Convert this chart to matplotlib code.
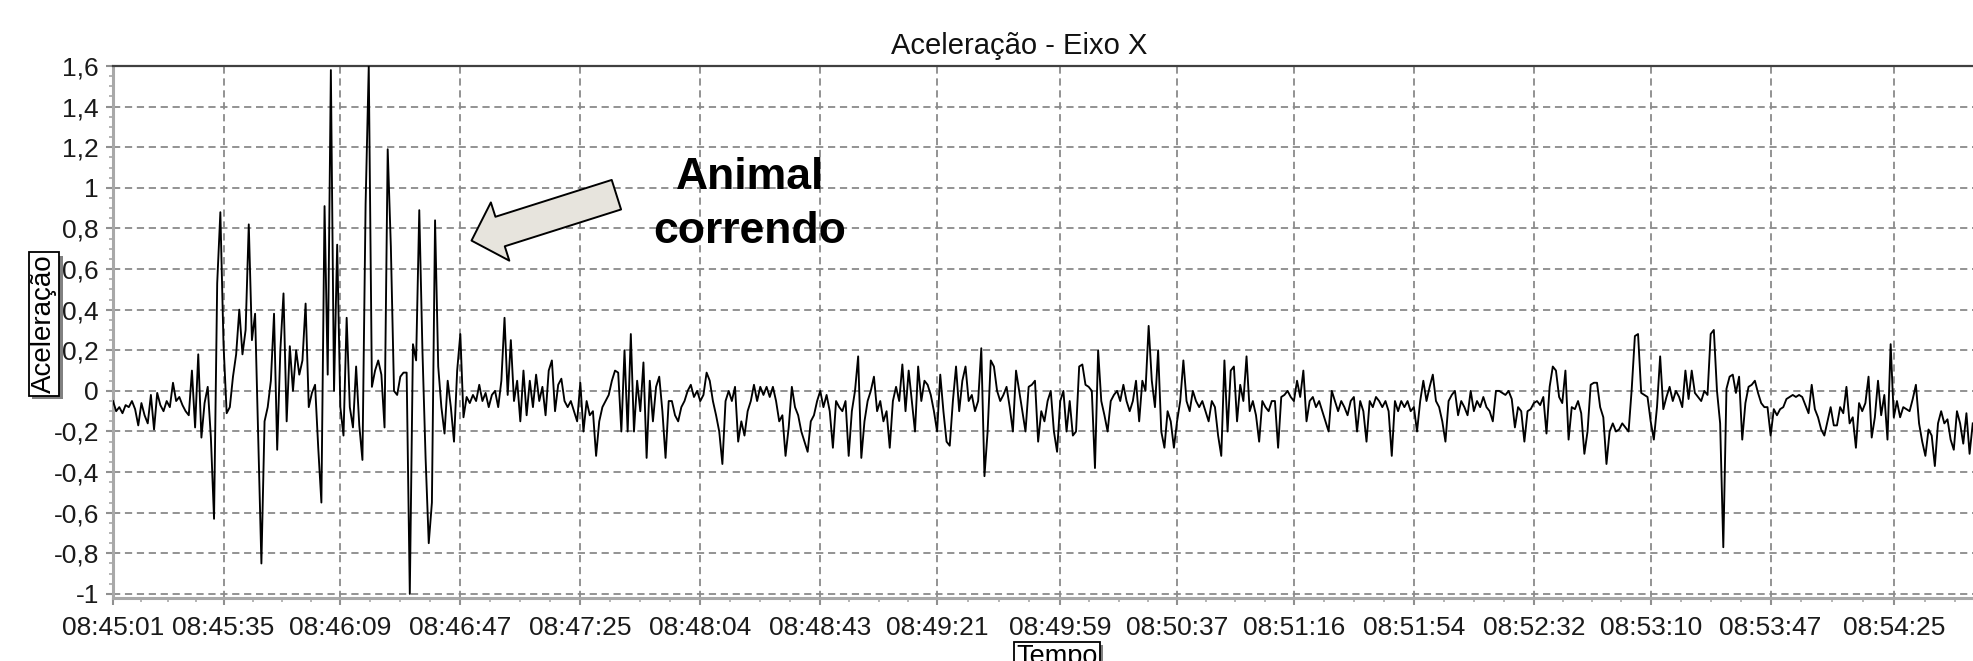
import matplotlib
matplotlib.use("Agg")
import matplotlib.pyplot as plt
import matplotlib.patheffects as pe
from matplotlib.ticker import FixedLocator, FuncFormatter
import numpy as np

plt.rcParams['font.family'] = ['Liberation Sans', 'DejaVu Sans']

title = "Aceleração - Eixo X"
x_label = "Tempo"
y_label = "Aceleração"
note = "Animal\ncorrendo"

sample_step = 1.0  # one value per second of the trace
end_sample = 589.4

# time labels and the sample each one sits on (logger clock is irregular)
tick_labels = ["08:45:01", "08:45:35", "08:46:09", "08:46:47", "08:47:25",
               "08:48:04", "08:48:43", "08:49:21", "08:49:59", "08:50:37",
               "08:51:16", "08:51:54", "08:52:32", "08:53:10", "08:53:47",
               "08:54:25"]
tick_sample = [0, 35, 72, 110, 148, 186, 224, 261, 300, 337, 374, 412, 450, 487, 525, 564]
y_ticks = [-1.0, -0.8, -0.6, -0.4, -0.2, 0.0, 0.2, 0.4, 0.6, 0.8, 1.0, 1.2, 1.4, 1.6]

# acceleration, one value per second from 08:45:01
accel = [
    -0.05, -0.10, -0.08, -0.11, -0.07, -0.08, -0.05, -0.09, -0.17, -0.06,  # 0
    -0.12, -0.16, -0.02, -0.19, -0.01, -0.07, -0.10, -0.05, -0.08, 0.04,
    -0.05, -0.03, -0.07, -0.10, -0.12, 0.10, -0.18, 0.18, -0.23, -0.06,
    0.02, -0.23, -0.63, 0.53, 0.88, 0.23, -0.11, -0.08, 0.07, 0.18,
    0.40, 0.18, 0.30, 0.82, 0.25, 0.38, -0.24, -0.85, -0.15, -0.08,
    0.05, 0.38, -0.29, 0.20, 0.48, -0.15, 0.22, 0.00, 0.20, 0.08,
    0.15, 0.43, -0.08, -0.01, 0.03, -0.28, -0.55, 0.91, 0.08, 1.58,
    0.00, 0.72, -0.08, -0.22, 0.36, -0.08, -0.18, 0.12, -0.17, -0.34,
    0.92, 1.60, 0.02, 0.10, 0.15, 0.08, -0.18, 1.19, 0.71, 0.00,
    -0.02, 0.07, 0.09, 0.09, -1.00, 0.23, 0.15, 0.89, 0.20, -0.33,
    -0.75, -0.55, 0.84, 0.12, -0.08, -0.21, 0.05, -0.08, -0.25, 0.10,  # 100
    0.28, -0.13, -0.03, -0.06, -0.02, -0.05, 0.03, -0.05, -0.01, -0.08,
    -0.02, 0.00, -0.08, 0.05, 0.36, -0.02, 0.25, -0.05, 0.05, -0.15,
    0.10, -0.12, 0.05, -0.08, 0.08, -0.05, 0.02, -0.12, 0.10, 0.15,
    -0.10, 0.03, 0.06, -0.05, -0.08, -0.05, -0.10, -0.15, 0.04, -0.20,
    -0.05, -0.12, -0.10, -0.32, -0.15, -0.08, -0.05, -0.02, 0.05, 0.10,
    0.09, -0.20, 0.20, -0.20, 0.28, -0.20, 0.05, -0.10, 0.14, -0.33,
    0.05, -0.15, 0.02, 0.07, -0.10, -0.33, -0.05, -0.05, -0.12, -0.15,
    -0.08, -0.05, 0.00, 0.03, -0.03, 0.00, -0.05, -0.02, 0.09, 0.05,
    -0.05, -0.12, -0.20, -0.36, -0.05, 0.00, -0.05, 0.02, -0.25, -0.15,
    -0.22, -0.10, -0.05, 0.03, -0.05, 0.02, -0.02, 0.02, -0.03, 0.02,  # 200
    -0.05, -0.15, -0.12, -0.32, -0.18, 0.02, -0.08, -0.12, -0.20, -0.25,
    -0.30, -0.15, -0.12, -0.05, 0.00, -0.08, -0.02, -0.10, -0.28, -0.05,
    -0.08, -0.10, -0.05, -0.32, -0.10, 0.00, 0.17, -0.33, -0.15, -0.05,
    0.00, 0.07, -0.10, -0.05, -0.15, -0.10, -0.28, -0.05, 0.02, -0.05,
    0.13, -0.10, 0.10, -0.05, -0.20, 0.12, -0.05, 0.05, 0.03, -0.02,
    -0.10, -0.20, 0.08, -0.10, -0.25, -0.27, -0.05, 0.12, -0.10, 0.05,
    0.12, -0.05, -0.02, -0.10, -0.05, 0.21, -0.42, -0.20, 0.15, 0.12,
    0.00, -0.05, -0.02, 0.02, -0.08, -0.20, 0.10, 0.00, -0.10, -0.20,
    0.02, 0.03, 0.05, -0.25, -0.10, -0.15, -0.05, 0.00, -0.20, -0.30,
    -0.05, 0.00, -0.20, -0.05, -0.22, -0.20, 0.12, 0.13, 0.03, 0.02,  # 300
    0.00, -0.38, 0.20, -0.05, -0.12, -0.20, -0.05, -0.02, 0.00, -0.05,
    0.03, -0.05, -0.10, -0.05, 0.05, -0.15, 0.05, 0.00, 0.32, 0.05,
    -0.08, 0.20, -0.20, -0.28, -0.10, -0.15, -0.28, -0.15, -0.05, 0.15,
    -0.05, -0.10, 0.00, -0.05, -0.08, -0.05, -0.10, -0.15, -0.05, -0.08,
    -0.22, -0.32, 0.15, -0.20, 0.10, 0.12, -0.15, 0.03, -0.05, 0.17,
    -0.10, -0.05, -0.12, -0.25, -0.05, -0.08, -0.10, -0.05, -0.05, -0.28,
    -0.03, -0.02, 0.00, -0.03, -0.05, 0.05, -0.03, 0.10, -0.15, -0.05,
    -0.03, -0.08, -0.05, -0.10, -0.15, -0.20, 0.00, -0.05, -0.10, -0.05,
    -0.08, -0.12, -0.05, -0.03, -0.20, -0.05, -0.10, -0.25, -0.05, -0.08,
    -0.03, -0.05, -0.08, -0.05, -0.10, -0.32, -0.05, -0.10, -0.05, -0.08,  # 400
    -0.05, -0.10, -0.08, -0.20, -0.05, 0.05, -0.05, 0.02, 0.08, -0.05,
    -0.08, -0.15, -0.25, -0.05, -0.02, 0.00, -0.12, -0.05, -0.08, -0.12,
    0.00, -0.10, -0.05, -0.08, -0.03, -0.08, -0.10, -0.15, 0.00, 0.00,
    -0.01, -0.02, 0.00, -0.04, -0.18, -0.08, -0.10, -0.25, -0.10, -0.09,
    -0.06, -0.05, -0.07, -0.03, -0.21, 0.02, 0.12, 0.10, -0.03, -0.06,
    0.10, -0.24, -0.08, -0.09, -0.05, -0.11, -0.31, -0.20, 0.03, 0.04,
    0.04, -0.08, -0.13, -0.36, -0.20, -0.16, -0.20, -0.19, -0.16, -0.18,
    -0.20, 0.01, 0.27, 0.28, -0.01, -0.02, -0.03, -0.15, -0.24, -0.08,
    0.17, -0.09, -0.03, 0.02, -0.05, 0.00, -0.03, -0.08, 0.10, -0.04,
    0.10, -0.01, -0.03, -0.05, 0.00, -0.02, 0.28, 0.30, 0.00, -0.16,  # 500
    -0.77, 0.01, 0.07, 0.08, -0.01, 0.07, -0.24, -0.06, 0.02, 0.03,
    0.05, -0.01, -0.06, -0.08, -0.08, -0.22, -0.09, -0.12, -0.09, -0.08,
    -0.04, -0.03, -0.02, -0.03, -0.02, -0.03, -0.07, -0.11, 0.03, -0.09,
    -0.13, -0.19, -0.22, -0.15, -0.08, -0.17, -0.17, -0.08, -0.11, 0.02,
    -0.16, -0.13, -0.28, -0.06, -0.10, -0.06, 0.07, -0.23, -0.13, 0.05,
    -0.12, -0.02, -0.24, 0.23, -0.13, -0.05, -0.13, -0.08, -0.09, -0.10,
    -0.04, 0.03, -0.16, -0.25, -0.32, -0.19, -0.22, -0.37, -0.16, -0.10,
    -0.16, -0.14, -0.24, -0.29, -0.10, -0.16, -0.26, -0.11, -0.31, -0.16,
]

t = np.arange(len(accel)) * sample_step

# 3 minor ticks inside every major interval
minor_x = []
edges = tick_sample + [tick_sample[-1] + (tick_sample[-1] - tick_sample[-2])]
for a, b in zip(edges[:-1], edges[1:]):
    minor_x += list(np.linspace(a, b, 5)[1:-1])

W, H = 1974, 661
fig = plt.figure(figsize=(W / 100, H / 100), dpi=100)
ax = fig.add_axes([113 / W, 1 - 598 / H, 1 - 113 / W, (598 - 66) / H])

ax.plot(t, accel, color="black", lw=1.35, zorder=3)

ax.set_xlim(0, end_sample)
ax.set_ylim(-1.02, 1.6)

ax.xaxis.set_major_locator(FixedLocator(tick_sample))
ax.set_xticklabels(tick_labels)
ax.xaxis.set_minor_locator(FixedLocator(minor_x))
ax.yaxis.set_major_locator(FixedLocator(y_ticks))
ax.yaxis.set_minor_locator(FixedLocator(np.arange(-1.0, 1.6001, 0.05)))


def comma(v, pos):
    s = f"{v + 0.0:.1f}".rstrip("0").rstrip(".")
    return "0" if s in ("-0", "") else s.replace(".", ",")


ax.yaxis.set_major_formatter(FuncFormatter(comma))

ax.grid(True, which="major", color="#8a8a8a", lw=1.3, ls=(0, (4, 2.6)), zorder=1)

for side in ("left", "bottom"):
    ax.spines[side].set_color("#a8a8a8")
    ax.spines[side].set_linewidth(2.2)
ax.spines["top"].set_color("#404040")
ax.spines["top"].set_linewidth(1.6)
ax.spines["right"].set_visible(False)

ax.tick_params(axis="both", which="major", length=5, width=1.5, color="#909090",
               labelsize=19, labelcolor="#1a1a1a")
ax.tick_params(axis="both", which="minor", length=3, width=1.2, color="#a8a8a8")
ax.tick_params(axis="x", which="major", pad=8)
ax.tick_params(axis="y", which="major", pad=5)

fig.text(1019 / W, 1 - 54 / H, title, ha="center", va="baseline", fontsize=21, color="#111111")

box = dict(boxstyle="square,pad=0.08", fc="white", ec="black", lw=1.3)
yl = fig.text(44 / W, 1 - 324 / H, y_label, rotation=90, ha="center", va="center",
              fontsize=20, bbox=box)
xl = fig.text(1057 / W, 1 - 644 / H, x_label, ha="center", va="top", fontsize=19.5, bbox=box)
for lab in (yl, xl):
    lab.get_bbox_patch().set_path_effects(
        [pe.withSimplePatchShadow(offset=(2.5, -2.5), shadow_rgbFace="0.45", alpha=0.9)])

fig.text(750 / W, 1 - 157 / H, note, ha="center", va="top", fontsize=32,
         fontweight="bold", linespacing=1.42, color="black")

ax.annotate("", xy=(471.5, H - 240.6), xycoords="figure pixels",
            xytext=(616.4, H - 194.7), textcoords="figure pixels",
            arrowprops=dict(arrowstyle="simple,head_length=21.6,head_width=44,tail_width=22.3",
                            mutation_scale=1, fc="#e7e4dd", ec="black", lw=1.4,
                            shrinkA=0, shrinkB=0))

fig.savefig("out.png", dpi=100)
